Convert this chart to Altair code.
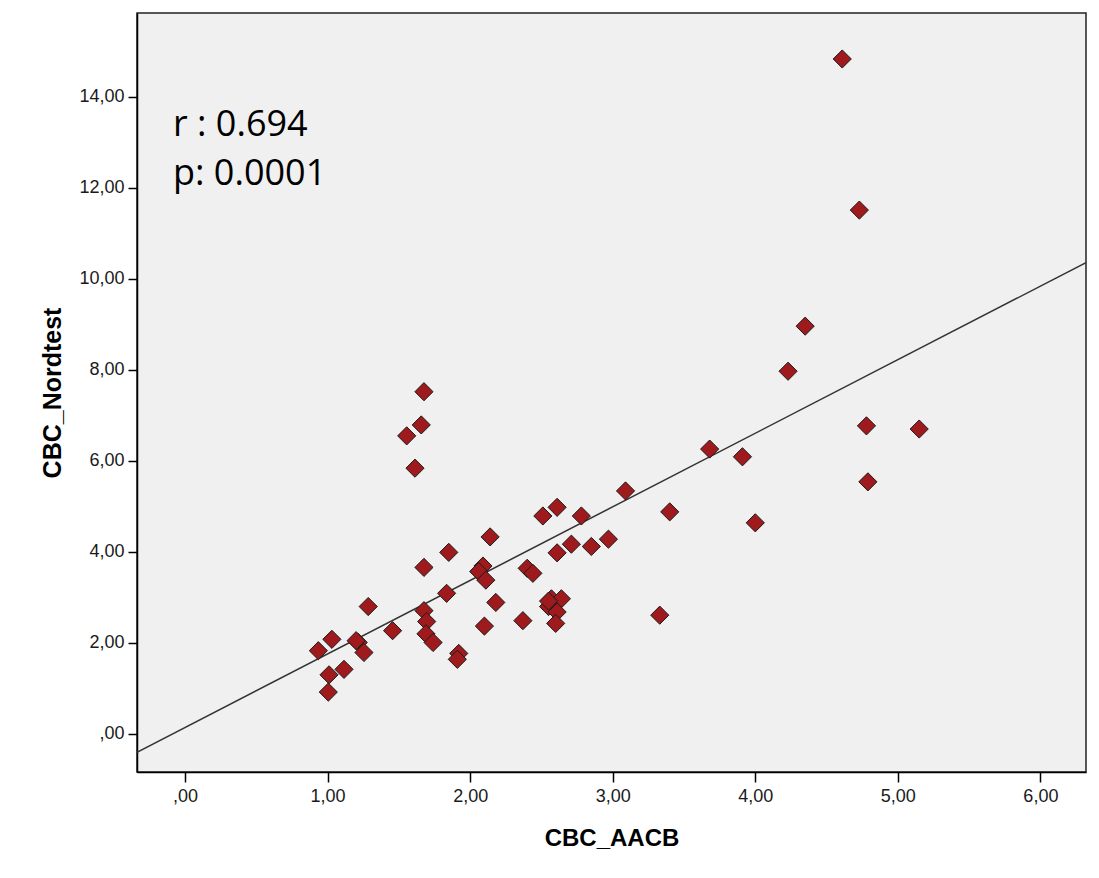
import altair as alt
import pandas as pd

# Values
cbc_aacb = [4.61, 4.73, 4.35, 4.23, 1.676, 1.657, 1.555, 1.613, 3.68, 3.91,
            4.78, 5.15, 4.79, 4.00, 3.40, 3.09, 2.61, 2.51, 2.78, 2.14,
            1.85, 2.61, 2.71, 2.85, 2.97, 1.676, 2.09, 2.06, 2.11, 2.40,
            2.44, 1.835, 1.285, 2.18, 1.676, 1.695, 2.10, 2.37, 2.57, 2.64,
            2.55, 2.61, 2.60, 3.33, 1.69, 1.74, 1.92, 1.91, 1.456, 0.935,
            1.03, 1.215, 1.255, 1.01, 1.115, 1.005, 1.20, 2.55]
cbc_nordtest = [14.83, 11.51, 8.96, 7.97, 7.52, 6.79, 6.55, 5.84, 6.26, 6.09,
                6.77, 6.70, 5.54, 4.64, 4.88, 5.34, 4.98, 4.79, 4.79, 4.33,
                3.99, 3.98, 4.17, 4.12, 4.28, 3.66, 3.69, 3.57, 3.38, 3.64,
                3.53, 3.09, 2.80, 2.89, 2.71, 2.47, 2.37, 2.49, 2.97, 2.97,
                2.80, 2.68, 2.43, 2.61, 2.20, 2.01, 1.77, 1.64, 2.27, 1.83,
                2.08, 2.01, 1.79, 1.30, 1.42, 0.92, 2.05, 2.92]

x_ticks = [0, 1, 2, 3, 4, 5, 6]
y_ticks = [0, 2, 4, 6, 8, 10, 12, 14]
x_domain = [-0.337, 6.32]
y_domain = [-0.835, 15.84]
stat_lines = ["r : 0.694", "p: 0.0001"]

df = pd.DataFrame({"CBC_AACB": cbc_aacb, "CBC_Nordtest": cbc_nordtest})

label_expr = "datum.value == 0 ? ',00' : replace(format(datum.value, '.2f'), '.', ',')"

x_enc = alt.X("CBC_AACB:Q",
              scale=alt.Scale(domain=x_domain, nice=False, zero=False),
              axis=alt.Axis(values=x_ticks, labelExpr=label_expr, title="CBC_AACB",
                            grid=False, tickSize=10, labelPadding=5,
                            titlePadding=21))
y_enc = alt.Y("CBC_Nordtest:Q",
              scale=alt.Scale(domain=y_domain, nice=False, zero=False),
              axis=alt.Axis(values=y_ticks, labelExpr=label_expr, title="CBC_Nordtest",
                            grid=False, tickSize=9, labelPadding=4,
                            titlePadding=13))

base = alt.Chart(df)

reg = base.transform_regression(
    "CBC_AACB", "CBC_Nordtest", extent=x_domain
).mark_line(color="#333333", strokeWidth=1.5, clip=True).encode(x=x_enc, y=y_enc)

pts = base.mark_point(shape="diamond", size=330, filled=True, fill="#9E1A1C",
                      stroke="#1c1c1c", strokeWidth=1, opacity=1).encode(x=x_enc, y=y_enc)

txt_df = pd.DataFrame({"t": stat_lines, "row": [0, 1]})
txt = alt.Chart(txt_df).mark_text(align="left", baseline="alphabetic",
                                  font="Open Sans", fontSize=36, color="#000000").encode(
    text="t:N",
    x=alt.value(36),
    y=alt.value(123),
).transform_filter("datum.row == 0")
txt2 = alt.Chart(txt_df).mark_text(align="left", baseline="alphabetic",
                                   font="Open Sans", fontSize=36, color="#000000").encode(
    text="t:N",
    x=alt.value(36),
    y=alt.value(172),
).transform_filter("datum.row == 1")

chart = alt.layer(reg, pts, txt, txt2).properties(
    width=949, height=759,
    autosize=alt.AutoSizeParams(type="none"),
    padding={"left": 129, "top": 5, "right": 5, "bottom": 90},
    background="white",
).configure_view(
    fill="#F0F0F0", stroke="#222222", strokeWidth=1.5
).configure_axis(
    domainColor="#000000", domainWidth=1.5, tickColor="#000000", tickWidth=1.5,
    labelFont="Liberation Sans", labelFontSize=18, labelColor="#1a1a1a",
    titleFont="Liberation Sans", titleFontSize=24, titleFontWeight="bold",
    titleColor="#000000"
).configure_axisY(titleFontSize=25)

chart.save("out.html", embed_options={"renderer": "svg", "actions": False})
